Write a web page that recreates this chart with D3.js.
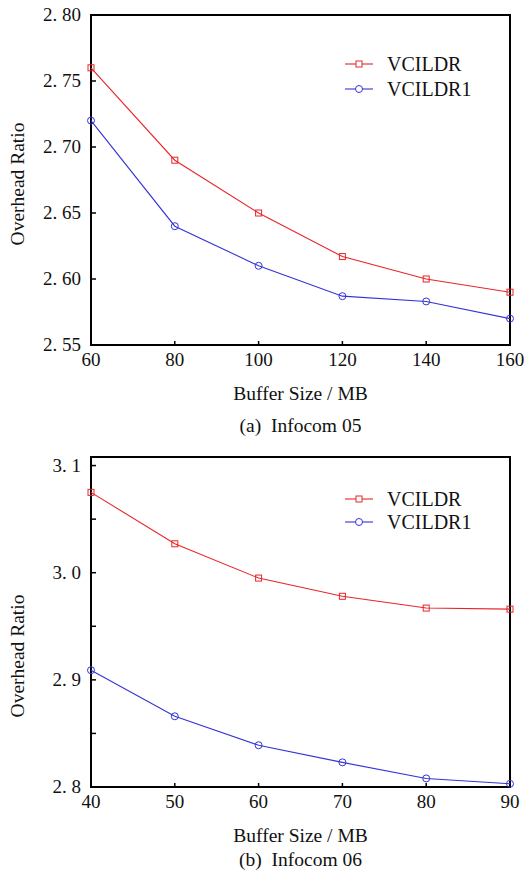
<!DOCTYPE html>
<html>
<head>
<meta charset="utf-8">
<script src="https://cdn.jsdelivr.net/npm/d3@7"></script>
<style>
  body { margin: 0; background: #fff; }
</style>
</head>
<body>
<div id="chart"></div>
<script>
// Panel (a) Infocom 05
const bufferA = [60, 80, 100, 120, 140, 160];
const vcildrA = [2.76, 2.69, 2.65, 2.617, 2.60, 2.59];
const vcildr1A = [2.72, 2.64, 2.61, 2.587, 2.583, 2.57];
const yTicksA = [2.55, 2.60, 2.65, 2.70, 2.75, 2.80];

// Panel (b) Infocom 06
const bufferB = [40, 50, 60, 70, 80, 90];
const vcildrB = [3.075, 3.027, 2.995, 2.978, 2.967, 2.966];
const vcildr1B = [2.909, 2.866, 2.839, 2.823, 2.808, 2.803];
const yTicksB = [2.8, 2.9, 3.0, 3.1];
const yMinorB = [2.85, 2.95, 3.05];

const seriesNames = ["VCILDR", "VCILDR1"];
const colors = ["#e8262a", "#3434d6"];
const FONT = "'Liberation Serif', 'Times New Roman', serif";

const svg = d3.select("#chart").append("svg")
    .attr("width", 525)
    .attr("height", 879)
    .attr("font-family", FONT);

function addText(g, size) {
    return g.append("text")
        .attr("font-family", FONT)
        .attr("font-size", size)
        .attr("fill", "#111");
}

function drawPanel(opt) {
    let g = svg.append("g");

    let x = d3.scaleLinear().domain(d3.extent(opt.xs)).range([opt.left, opt.right]);
    let y = d3.scaleLinear().domain(opt.yDomain).range([opt.bottom, opt.top]);

    // frame
    g.append("rect")
        .attr("x", opt.left).attr("y", opt.top)
        .attr("width", opt.right - opt.left)
        .attr("height", opt.bottom - opt.top)
        .attr("fill", "none")
        .attr("stroke", "#000")
        .attr("stroke-width", 2);

    // x axis ticks (inward)
    g.selectAll(".xt").data(opt.xs).enter().append("line")
        .attr("x1", d => x(d)).attr("x2", d => x(d))
        .attr("y1", opt.bottom).attr("y2", opt.bottom - 4)
        .attr("stroke", "#000").attr("stroke-width", 1.5);

    opt.xs.forEach(d => {
        addText(g, 19)
            .attr("x", x(d))
            .attr("y", opt.bottom + 21)
            .attr("text-anchor", "middle")
            .text(d);
    });

    // y axis ticks
    g.selectAll(".yt").data(opt.yTicks.concat(opt.yMinor || [])).enter().append("line")
        .attr("x1", opt.left).attr("x2", opt.left + 5)
        .attr("y1", d => y(d)).attr("y2", d => y(d))
        .attr("stroke", "#000").attr("stroke-width", 1.5);

    opt.yTicks.forEach(d => {
        addText(g, 19)
            .attr("x", opt.left - 10)
            .attr("y", y(d) + 6)
            .attr("text-anchor", "end")
            .text(d3.format(opt.fmt)(d).replace(".", ". "));
    });

    // axis titles
    addText(g, 19.5)
        .attr("x", (opt.left + opt.right) / 2)
        .attr("y", opt.bottom + 55)
        .attr("text-anchor", "middle")
        .text("Buffer Size / MB");

    addText(g, 19.5)
        .attr("transform", "translate(24," + opt.yTitle + ") rotate(-90)")
        .attr("text-anchor", "middle")
        .text("Overhead Ratio");

    addText(g, 19.5)
        .attr("x", (opt.left + opt.right) / 2)
        .attr("y", opt.bottom + opt.capOffset)
        .attr("text-anchor", "middle")
        .style("white-space", "pre")
        .text(opt.caption);

    let line = d3.line()
        .x((d, i) => x(opt.xs[i]))
        .y(d => y(d));

    opt.series.forEach((s, k) => {
        g.append("path")
            .datum(s)
            .attr("fill", "none")
            .attr("stroke", colors[k])
            .attr("stroke-width", 1.1)
            .attr("d", line);

        let pts = g.selectAll(".m" + k).data(s).enter();
        if (k === 0) {
            pts.append("rect")
                .attr("x", (d, i) => x(opt.xs[i]) - 3)
                .attr("y", d => y(d) - 3)
                .attr("width", 6).attr("height", 6)
                .attr("fill", "none")
                .attr("stroke", colors[k]);
        } else {
            pts.append("circle")
                .attr("cx", (d, i) => x(opt.xs[i]))
                .attr("cy", d => y(d))
                .attr("r", 3.5)
                .attr("fill", "none")
                .attr("stroke", colors[k]);
        }

        // legend
        let ly = opt.legendY + k * opt.legendGap;
        g.append("line")
            .attr("x1", 345).attr("x2", 373)
            .attr("y1", ly).attr("y2", ly)
            .attr("stroke", colors[k]).attr("stroke-width", 1.1);
        if (k === 0) {
            g.append("rect")
                .attr("x", 356).attr("y", ly - 3)
                .attr("width", 6).attr("height", 6)
                .attr("fill", "#fff").attr("stroke", colors[k]);
        } else {
            g.append("circle")
                .attr("cx", 359).attr("cy", ly).attr("r", 3.5)
                .attr("fill", "#fff").attr("stroke", colors[k]);
        }
        addText(g, 20)
            .attr("x", 387).attr("y", ly + 7)
            .text(seriesNames[k]);
    });
}

drawPanel({
    xs: bufferA, series: [vcildrA, vcildr1A],
    yDomain: [2.55, 2.80], yTicks: yTicksA, fmt: ".2f",
    left: 91, right: 510, top: 15, bottom: 345,
    yTitle: 184, legendY: 64, legendGap: 25,
    caption: "(a)  Infocom 05", capOffset: 87
});

drawPanel({
    xs: bufferB, series: [vcildrB, vcildr1B],
    yDomain: [2.8, 3.108], yTicks: yTicksB, yMinor: yMinorB, fmt: ".1f",
    left: 91, right: 510, top: 457, bottom: 787,
    yTitle: 656, legendY: 499, legendGap: 23,
    caption: "(b)  Infocom 06", capOffset: 79
});
</script>
</body>
</html>
